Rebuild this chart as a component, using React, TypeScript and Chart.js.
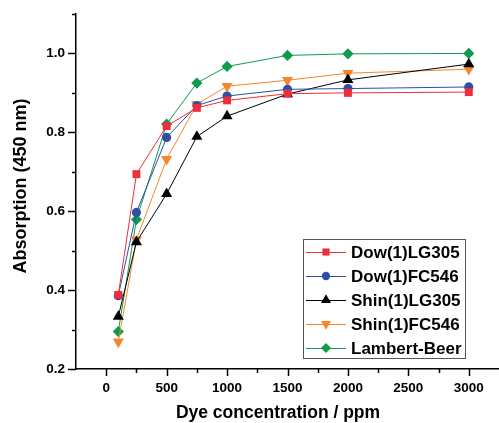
import React, { useEffect, useRef } from 'react';
import { Chart, registerables } from 'chart.js';

Chart.register(...registerables);

// ---- Data ----
const concentrations = [100, 250, 500, 750, 1000, 1500, 2000, 3000];
const dowLG305 = [0.388, 0.694, 0.816, 0.862, 0.881, 0.898, 0.9, 0.902];
const dowFC546 = [0.386, 0.597, 0.787, 0.868, 0.892, 0.909, 0.911, 0.915];
const shinLG305 = [0.333, 0.522, 0.644, 0.789, 0.841, 0.897, 0.933, 0.973];
const shinFC546 = [0.269, 0.528, 0.732, 0.871, 0.917, 0.932, 0.95, 0.96];
const lambertBeer = [0.295, 0.579, 0.821, 0.925, 0.967, 0.995, 0.999, 1.0];

const seriesNames = ['Dow(1)LG305', 'Dow(1)FC546', 'Shin(1)LG305', 'Shin(1)FC546', 'Lambert-Beer'];
const seriesValues = [dowLG305, dowFC546, shinLG305, shinFC546, lambertBeer];
const seriesColors = ['#ec2f3b', '#2f4fa3', '#000000', '#f5872c', '#0f9a4c'];
const seriesMarkers = ['rect', 'circle', 'triangle', 'triangle', 'rectRot'];
const seriesRotations = [0, 0, 0, 180, 0];
const seriesRadii = [5.6, 4.6, 6.4, 6.4, 5.6];

const xTitle = 'Dye concentration / ppm';
const yTitle = 'Absorption (450 nm)';
const xMajorLabels = [0, 500, 1000, 1500, 2000, 2500, 3000];
const yMajorLabels = [0.2, 0.4, 0.6, 0.8, 1.0];

const FONT = '"Liberation Sans", Arial, sans-serif';

function drawMarker(ctx: CanvasRenderingContext2D, style: string, x: number, y: number, r: number, rotation: number) {
  let rad = (rotation * Math.PI) / 180;
  ctx.beginPath();
  if (style === 'circle') {
    ctx.arc(x, y, r, 0, Math.PI * 2);
  } else if (style === 'rect') {
    const s = Math.SQRT1_2 * r;
    ctx.rect(x - s, y - s, 2 * s, 2 * s);
  } else if (style === 'rectRot') {
    ctx.moveTo(x - r, y);
    ctx.lineTo(x, y - r);
    ctx.lineTo(x + r, y);
    ctx.lineTo(x, y + r);
    ctx.closePath();
  } else if (style === 'triangle') {
    const t = (2 * Math.PI) / 3;
    ctx.moveTo(x + Math.sin(rad) * r, y - Math.cos(rad) * r);
    rad += t;
    ctx.lineTo(x + Math.sin(rad) * r, y - Math.cos(rad) * r);
    rad += t;
    ctx.lineTo(x + Math.sin(rad) * r, y - Math.cos(rad) * r);
    ctx.closePath();
  }
  ctx.fill();
}

const customPlugin = {
  id: 'customDecor',
  afterDraw(chart: any) {
    const ctx: CanvasRenderingContext2D = chart.ctx;
    const xs = chart.scales.x;
    const ys = chart.scales.y;
    const area = chart.chartArea;
    ctx.save();
    ctx.strokeStyle = '#000';
    ctx.lineWidth = 1.5;
    // x ticks (major every 500, minor 250)
    xs.ticks.forEach((t: any) => {
      const v = t.value;
      if (v < 0 || v > 3000) return;
      const px = Math.round(xs.getPixelForValue(v)) + 0.5;
      const len = Math.round(v) % 500 === 0 ? 7 : 4;
      ctx.beginPath();
      ctx.moveTo(px, area.bottom);
      ctx.lineTo(px, area.bottom + len);
      ctx.stroke();
    });
    ys.ticks.forEach((t: any) => {
      const k = Math.round(t.value * 10);
      const py = Math.round(ys.getPixelForValue(t.value)) + 0.5;
      const len = k % 2 === 0 ? 8 : 4;
      ctx.beginPath();
      ctx.moveTo(area.left, py);
      ctx.lineTo(area.left - len, py);
      ctx.stroke();
    });

    // axis titles
    ctx.fillStyle = '#000';
    ctx.font = `bold 17.5px ${FONT}`;
    ctx.textAlign = 'center';
    ctx.textBaseline = 'alphabetic';
    ctx.fillText(xTitle, 278, 418);

    ctx.save();
    ctx.translate(26, 186);
    ctx.rotate(-Math.PI / 2);
    ctx.font = `bold 18px ${FONT}`;
    ctx.fillText(yTitle, 0, 0);
    ctx.restore();

    // legend
    const bx = 303, by = 239, bw = 162, bh = 119;
    ctx.fillStyle = '#fff';
    ctx.fillRect(bx, by, bw, bh);
    ctx.strokeStyle = '#555';
    ctx.lineWidth = 1;
    ctx.strokeRect(bx + 0.5, by + 0.5, bw, bh);
    seriesNames.forEach((name, i) => {
      const cy = by + 13 + i * 24;
      ctx.strokeStyle = seriesColors[i];
      ctx.fillStyle = seriesColors[i];
      ctx.lineWidth = 1;
      ctx.beginPath();
      ctx.moveTo(bx + 3, cy + 0.5);
      ctx.lineTo(bx + 43, cy + 0.5);
      ctx.stroke();
      drawMarker(ctx, seriesMarkers[i], bx + 23, cy, seriesRadii[i] * 0.9, seriesRotations[i]);
      ctx.fillStyle = '#000';
      ctx.font = `bold 17px ${FONT}`;
      ctx.textAlign = 'left';
      ctx.textBaseline = 'middle';
      ctx.fillText(name, bx + 48, cy + 1);
    });
    ctx.restore();
  },
};

export default function App() {
  const canvasRef = useRef<HTMLCanvasElement | null>(null);

  useEffect(() => {
    const canvas = canvasRef.current;
    if (!canvas) return;
    const datasets = seriesNames.map((name, i) => ({
      label: name,
      data: concentrations.map((c, j) => ({ x: c, y: seriesValues[i][j] })),
      borderColor: seriesColors[i],
      backgroundColor: seriesColors[i],
      borderWidth: 1,
      pointStyle: seriesMarkers[i] as any,
      rotation: seriesRotations[i],
      pointRadius: seriesRadii[i],
      pointBorderWidth: 0,
      tension: 0,
      fill: false,
      clip: false as any,
    }));

    const chart = new Chart(canvas, {
      type: 'line',
      data: { datasets },
      plugins: [customPlugin],
      options: {
        animation: false,
        responsive: false,
        devicePixelRatio: 1,
        layout: { autoPadding: false, padding: { top: 14, right: 0, bottom: 0, left: 0 } },
        plugins: { legend: { display: false }, tooltip: { enabled: false } },
        scales: {
          x: {
            type: 'linear',
            min: -250,
            max: 3250,
            afterFit: (s: any) => {
              s.height = 54;
              s.paddingLeft = 0;
              s.paddingRight = 0;
            },
            border: { display: true, color: '#000', width: 1.5 },
            grid: { display: true, drawOnChartArea: false, drawTicks: true, tickLength: 11, tickColor: 'rgba(0,0,0,0)' },
            ticks: {
              stepSize: 250,
              padding: 0,
              maxRotation: 0,
              minRotation: 0,
              autoSkip: false,
              color: '#000',
              font: { family: FONT, size: 13.5, weight: 'bold' },
              callback: (v: any) => (xMajorLabels.includes(Math.round(Number(v))) ? String(Math.round(Number(v))) : ''),
            },
            title: { display: false },
          },
          y: {
            type: 'linear',
            min: 0.2,
            max: 1.1,
            afterFit: (s: any) => { s.width = 76; s.paddingTop = 0; s.paddingBottom = 0; },
            border: { display: true, color: '#000', width: 1.5 },
            grid: { display: true, drawOnChartArea: false, drawTicks: true, tickLength: 8, tickColor: 'rgba(0,0,0,0)' },
            ticks: {
              stepSize: 0.1,
              padding: 3,
              autoSkip: false,
              color: '#000',
              font: { family: FONT, size: 13.5, weight: 'bold' },
              callback: (v: any) => {
                const k = Math.round(Number(v) * 10) / 10;
                return yMajorLabels.some((m) => Math.abs(m - k) < 1e-6) ? k.toFixed(1) : '';
              },
            },
            title: { display: false },
          },
        },
      },
    });
    return () => chart.destroy();
  }, []);

  return (
    <div style={{ position: 'fixed', left: 0, top: 0, width: 499, height: 423, background: '#fff' }}>
      <canvas ref={canvasRef} width={499} height={423} style={{ width: 499, height: 423, display: 'block' }} />
    </div>
  );
}
